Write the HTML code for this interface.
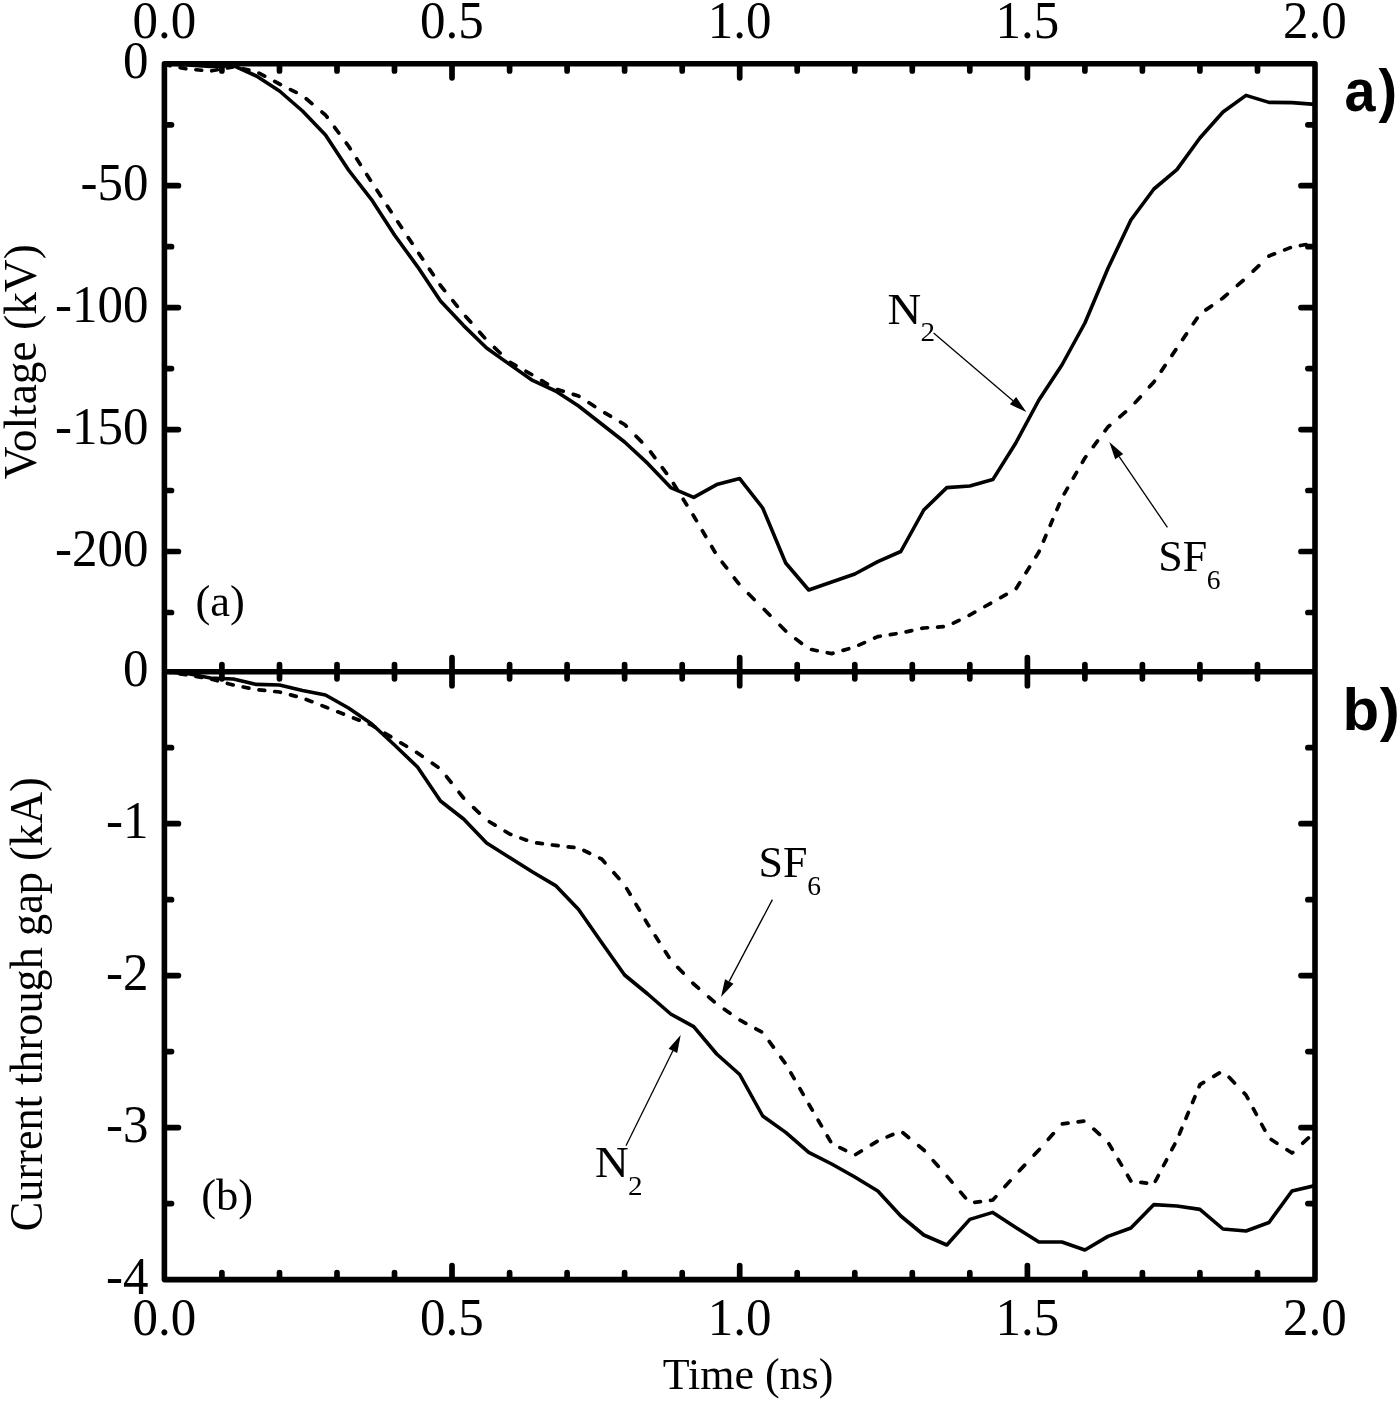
<!DOCTYPE html>
<html lang="en"><head><meta charset="utf-8"><title>Voltage and current through gap vs time</title>
<style>
html,body{margin:0;padding:0;background:#fff;}
body{width:1400px;height:1402px;overflow:hidden;}
svg{display:block;}
.ser{font-family:"Liberation Serif","Times New Roman",serif;fill:#000;}
.san{font-family:"Liberation Sans",Arial,sans-serif;font-weight:bold;fill:#000;}
.ax{stroke:#000;stroke-width:5.6;fill:none;stroke-linecap:round;stroke-linejoin:round;}
.tk{stroke:#000;stroke-width:5.7;fill:none;stroke-linecap:round;}
.cs{stroke:#000;stroke-width:3.6;fill:none;stroke-linejoin:round;stroke-linecap:butt;}
.cd{stroke:#000;stroke-width:3.7;fill:none;stroke-linejoin:round;stroke-linecap:round;}
.ar{stroke:#000;stroke-width:1.3;fill:none;}
</style></head><body>
<svg width="1400" height="1402" viewBox="0 0 1400 1402">
<rect x="0" y="0" width="1400" height="1402" fill="#fff"/>
<defs><clipPath id="ca"><rect x="164.4" y="63.8" width="1150.6" height="607.9"/></clipPath>
<clipPath id="cb"><rect x="164.4" y="671.7" width="1150.6" height="607.9"/></clipPath></defs>
<g clip-path="url(#ca)">
<path class="cd" d="M164.40 64.50L170.10 65.61M180.16 67.58L185.86 68.70M195.92 69.74L201.62 70.23M211.68 70.77L217.38 69.73M227.44 67.89L233.14 66.85M243.20 68.92L248.90 70.16M258.96 73.13L264.66 76.15M274.72 81.49L279.46 84.00L280.42 84.48M290.48 89.56L296.18 92.43M306.24 98.78L311.94 103.58M322.00 112.06L325.48 115.00L327.13 117.22M334.60 127.28L338.83 132.98M346.30 143.04L348.50 146.00L350.24 148.74M356.68 158.80L360.32 164.50M366.75 174.56L370.39 180.26M376.98 190.32L380.72 196.02M387.34 206.08L391.09 211.78M397.75 221.84L401.55 227.54M408.26 237.60L412.06 243.30M418.79 253.36L422.65 259.06M429.45 269.12L433.31 274.82M440.12 284.88L440.54 285.50L444.64 290.58M452.77 300.64L457.37 306.34M465.68 316.40L470.72 322.10M479.63 332.16L484.67 337.86M494.48 347.57L500.18 353.02M510.24 362.38L515.94 365.60M526.00 371.28L531.70 374.50M541.76 380.58L547.46 384.05M557.52 389.58L563.22 391.32M573.28 394.38L578.62 396.00L578.98 396.24M589.04 402.80L594.74 406.51M604.80 412.86L610.50 416.21M620.56 422.11L624.64 424.50L626.23 426.12M636.08 436.18L641.66 441.88M650.58 451.94L654.81 457.64M662.28 467.70L666.51 473.40M673.44 483.46L676.99 489.16M683.24 499.22L686.79 504.92M693.04 514.98L693.68 516.00L696.44 520.68M702.38 530.74L705.74 536.44M711.67 546.50L715.04 552.20M722.26 562.26L726.63 567.96M734.35 578.02L738.72 583.72M748.48 593.78L754.18 599.48M764.24 609.53L769.94 615.23M780.00 625.28L785.70 630.98M795.76 638.85L801.46 643.31M811.52 649.56L817.22 650.70M827.28 652.71L831.75 653.60L832.98 653.25M843.04 650.36L848.74 648.73M858.80 645.17L864.50 642.60M874.56 638.05L877.77 636.60L880.26 636.21M890.32 634.64L896.02 633.74M906.08 631.85L911.78 630.61M921.84 628.42L923.80 628.00L927.54 627.74M937.60 627.04L943.30 626.64M953.36 623.15L959.06 620.33M969.12 615.34L969.82 615.00L974.82 612.17M984.88 606.49L990.58 603.27M1000.64 597.59L1006.34 594.37M1016.19 588.44L1019.74 582.74M1025.99 572.68L1029.54 566.98M1035.80 556.92L1038.86 552.00L1039.19 551.22M1043.48 541.16L1045.90 535.46M1050.19 525.40L1052.62 519.70M1056.91 509.64L1059.34 503.94M1064.24 493.88L1067.52 488.18M1073.30 478.12L1076.58 472.42M1082.37 462.36L1084.88 458.00L1085.87 456.66M1093.34 446.60L1097.57 440.90M1105.04 430.84L1107.89 427.00L1109.75 425.41M1119.81 416.80L1125.51 411.92M1135.15 402.63L1140.33 396.93M1149.48 386.87L1153.92 382.00L1154.48 381.17M1161.29 371.11L1165.14 365.41M1171.95 355.35L1175.81 349.65M1182.62 339.59L1186.48 333.89M1193.29 323.83L1197.14 318.13M1205.87 309.88L1211.57 305.92M1221.63 298.92L1222.95 298.00L1227.33 294.20M1237.39 285.45L1243.09 280.50M1253.15 271.13L1258.85 265.68M1268.91 256.07L1268.98 256.00L1274.61 253.80M1284.67 249.86L1290.37 247.63M1300.43 245.53L1306.13 244.54"/>
<polyline class="cs" points="164.4,63.8 187.4,65.0 210.4,66.5 233.4,65.6 256.4,76.0 279.5,91.0 302.5,111.0 325.5,135.0 348.5,170.0 371.5,199.6 394.5,235.0 417.5,266.6 440.5,301.0 463.6,325.6 486.6,348.0 509.6,364.4 532.6,380.4 555.6,391.0 578.6,406.0 601.6,424.0 624.6,442.0 647.7,463.4 670.7,487.6 693.7,497.4 716.7,484.6 739.7,478.6 762.7,508.0 785.7,563.0 808.7,590.0 831.7,582.0 854.8,574.0 877.8,561.6 900.8,551.5 923.8,510.0 946.8,487.6 969.8,486.0 992.8,479.6 1015.8,443.0 1038.9,400.0 1061.9,365.0 1084.9,323.0 1107.9,268.5 1130.9,220.0 1153.9,189.0 1176.9,169.6 1199.9,138.0 1223.0,112.0 1246.0,95.4 1269.0,102.4 1292.0,102.6 1315.0,104.4"/>
</g>
<g clip-path="url(#cb)">
<path class="cd" d="M164.40 671.70L170.10 672.52M180.16 673.96L185.86 674.78M195.92 676.48L201.62 677.47M211.68 679.33L217.38 680.81M227.44 683.44L233.14 684.92M243.20 686.95L248.90 688.09M258.96 689.86L264.66 690.46M274.72 691.51L279.46 692.00L280.42 692.25M290.48 694.87L296.18 696.36M306.24 699.47L311.94 701.70M322.00 705.64L325.48 707.00L327.70 707.87M337.76 711.80L343.46 714.03M353.52 717.96L359.22 720.19M369.28 724.13L371.51 725.00L374.98 727.11M385.04 733.23L390.74 736.70M400.80 742.82L406.50 746.29M416.56 752.41L417.53 753.00L422.26 756.29M432.32 763.28L438.02 767.25M446.52 776.54L451.05 782.24M459.03 792.30L463.55 798.00M473.61 807.61L479.31 813.06M489.37 821.71L495.07 825.17M505.13 831.29L509.58 834.00L510.83 834.46M520.89 838.13L526.59 840.21M536.65 842.93L542.35 843.67M552.41 844.98L555.60 845.40L558.11 845.68M568.17 846.82L573.87 847.46M583.93 850.54L589.63 853.27M599.69 858.07L601.63 859.00L604.96 862.76M613.86 872.82L618.91 878.52M626.75 888.58L630.12 894.28M636.05 904.34L639.42 910.04M645.35 920.10L647.65 924.00L648.81 925.80M655.24 935.86L658.88 941.56M665.31 951.62L668.95 957.32M677.74 967.38L683.21 973.08M692.86 983.14L693.68 984.00L698.52 988.21M708.58 996.95L714.28 1001.91M724.34 1009.32L730.04 1013.28M740.10 1020.22L745.80 1023.31M755.86 1028.78L761.56 1031.87M769.22 1041.41L773.38 1047.11M780.73 1057.17L784.90 1062.87M790.86 1072.93L794.14 1078.63M799.93 1088.69L803.21 1094.39M809.00 1104.45L812.31 1110.15M818.15 1120.21L821.47 1125.91M827.31 1135.97L830.63 1141.67M839.88 1147.63L845.58 1150.45M855.64 1154.47L861.34 1151.00M871.40 1144.88L877.10 1141.41M887.16 1136.92L892.86 1134.45M902.92 1132.76L908.62 1137.47M918.68 1145.77L923.80 1150.00L924.31 1150.58M933.21 1160.64L938.26 1166.34M947.15 1176.40L952.01 1182.10M960.58 1192.16L965.44 1197.86M974.74 1202.36L980.44 1201.62M990.50 1200.30L992.83 1200.00L995.87 1196.63M1004.95 1186.57L1010.09 1180.87M1019.31 1170.81L1024.66 1165.11M1034.11 1155.05L1038.86 1150.00L1039.43 1149.35M1048.33 1139.29L1053.38 1133.59M1062.34 1123.94L1068.04 1123.20M1078.10 1121.88L1083.80 1121.14M1093.86 1129.19L1099.56 1134.39M1108.91 1143.72L1112.27 1149.42M1118.21 1159.48L1121.57 1165.18M1127.51 1175.24L1130.87 1180.94M1140.91 1182.30L1146.61 1183.05M1155.36 1181.25L1158.34 1175.55M1163.60 1165.49L1166.58 1159.79M1171.84 1149.73L1174.82 1144.03M1179.44 1133.97L1181.81 1128.27M1186.00 1118.21L1188.37 1112.51M1192.55 1102.45L1194.93 1096.75M1199.11 1086.69L1199.94 1084.70L1203.65 1082.44M1213.71 1076.32L1219.41 1072.85M1229.13 1077.22L1234.52 1082.92M1244.05 1092.98L1245.96 1095.00L1247.93 1098.68M1253.32 1108.74L1256.37 1114.44M1261.75 1124.50L1264.80 1130.20M1271.24 1139.47L1276.94 1143.19M1287.00 1149.75L1291.99 1153.00L1292.70 1152.35M1302.76 1143.17L1308.46 1137.97"/>
<polyline class="cs" points="164.4,671.7 187.4,673.6 210.4,678.0 233.4,679.0 256.4,684.4 279.5,685.0 302.5,690.6 325.5,695.0 348.5,708.0 371.5,723.8 394.5,745.0 417.5,767.0 440.5,801.0 463.6,819.0 486.6,843.0 509.6,857.6 532.6,872.0 555.6,885.6 578.6,909.5 601.6,942.5 624.6,975.0 647.7,994.0 670.7,1014.0 693.7,1026.6 716.7,1054.0 739.7,1074.5 762.7,1116.0 785.7,1132.4 808.7,1152.4 831.7,1164.0 854.8,1177.0 877.8,1191.0 900.8,1216.0 923.8,1235.0 946.8,1245.0 969.8,1219.4 992.8,1212.4 1015.8,1227.5 1038.9,1242.0 1061.9,1242.0 1084.9,1250.0 1107.9,1236.4 1130.9,1228.0 1153.9,1204.6 1176.9,1206.0 1199.9,1209.4 1223.0,1229.0 1246.0,1231.0 1269.0,1222.5 1292.0,1191.0 1315.0,1185.6"/>
</g>
<path class="tk" d="M221.9 65.3v5.6M221.9 664.6v14.2M221.9 1278.1v-5.6M279.5 65.3v5.6M279.5 664.6v14.2M279.5 1278.1v-5.6M337.0 65.3v5.6M337.0 664.6v14.2M337.0 1278.1v-5.6M394.5 65.3v5.6M394.5 664.6v14.2M394.5 1278.1v-5.6M452.0 65.3v12.5M452.0 657.7v28.0M452.0 1278.1v-12.5M509.6 65.3v5.6M509.6 664.6v14.2M509.6 1278.1v-5.6M567.1 65.3v5.6M567.1 664.6v14.2M567.1 1278.1v-5.6M624.6 65.3v5.6M624.6 664.6v14.2M624.6 1278.1v-5.6M682.2 65.3v5.6M682.2 664.6v14.2M682.2 1278.1v-5.6M739.7 65.3v12.5M739.7 657.7v28.0M739.7 1278.1v-12.5M797.2 65.3v5.6M797.2 664.6v14.2M797.2 1278.1v-5.6M854.8 65.3v5.6M854.8 664.6v14.2M854.8 1278.1v-5.6M912.3 65.3v5.6M912.3 664.6v14.2M912.3 1278.1v-5.6M969.8 65.3v5.6M969.8 664.6v14.2M969.8 1278.1v-5.6M1027.4 65.3v12.5M1027.4 657.7v28.0M1027.4 1278.1v-12.5M1084.9 65.3v5.6M1084.9 664.6v14.2M1084.9 1278.1v-5.6M1142.4 65.3v5.6M1142.4 664.6v14.2M1142.4 1278.1v-5.6M1199.9 65.3v5.6M1199.9 664.6v14.2M1199.9 1278.1v-5.6M1257.5 65.3v5.6M1257.5 664.6v14.2M1257.5 1278.1v-5.6M165.9 124.8h5.6M1313.5 124.8h-5.6M165.9 185.7h12.5M1313.5 185.7h-12.5M165.9 246.7h5.6M1313.5 246.7h-5.6M165.9 307.6h12.5M1313.5 307.6h-12.5M165.9 368.6h5.6M1313.5 368.6h-5.6M165.9 429.6h12.5M1313.5 429.6h-12.5M165.9 490.5h5.6M1313.5 490.5h-5.6M165.9 551.5h12.5M1313.5 551.5h-12.5M165.9 612.5h5.6M1313.5 612.5h-5.6M165.9 747.7h5.6M1313.5 747.7h-5.6M165.9 823.7h12.5M1313.5 823.7h-12.5M165.9 899.7h5.6M1313.5 899.7h-5.6M165.9 975.6h12.5M1313.5 975.6h-12.5M165.9 1051.6h5.6M1313.5 1051.6h-5.6M165.9 1127.6h12.5M1313.5 1127.6h-12.5M165.9 1203.6h5.6M1313.5 1203.6h-5.6"/>
<path class="ax" d="M164.4 63.8H1315.0V1279.6H164.4Z"/>
<path class="ax" style="stroke-linecap:butt" d="M164.4 671.7H1315.0"/>
<text class="ser" font-size="51" text-anchor="middle" transform="translate(164.4 37.8) scale(1 1.030)">0.0</text>
<text class="ser" font-size="51" text-anchor="middle" transform="translate(164.4 1334.6) scale(1 1.030)">0.0</text>
<text class="ser" font-size="51" text-anchor="middle" transform="translate(452.0 37.8) scale(1 1.030)">0.5</text>
<text class="ser" font-size="51" text-anchor="middle" transform="translate(452.0 1334.6) scale(1 1.030)">0.5</text>
<text class="ser" font-size="51" text-anchor="middle" transform="translate(739.7 37.8) scale(1 1.030)">1.0</text>
<text class="ser" font-size="51" text-anchor="middle" transform="translate(739.7 1334.6) scale(1 1.030)">1.0</text>
<text class="ser" font-size="51" text-anchor="middle" transform="translate(1027.3 37.8) scale(1 1.030)">1.5</text>
<text class="ser" font-size="51" text-anchor="middle" transform="translate(1027.3 1334.6) scale(1 1.030)">1.5</text>
<text class="ser" font-size="51" text-anchor="middle" transform="translate(1315.0 37.8) scale(1 1.030)">2.0</text>
<text class="ser" font-size="51" text-anchor="middle" transform="translate(1315.0 1334.6) scale(1 1.030)">2.0</text>
<text class="ser" font-size="51" text-anchor="end" transform="translate(148.4 78.0) scale(1 1.030)">0</text>
<text class="ser" font-size="51" text-anchor="end" transform="translate(148.4 199.9) scale(1 1.030)">-50</text>
<text class="ser" font-size="51" text-anchor="end" transform="translate(148.4 321.8) scale(1 1.030)">-100</text>
<text class="ser" font-size="51" text-anchor="end" transform="translate(148.4 443.8) scale(1 1.030)">-150</text>
<text class="ser" font-size="51" text-anchor="end" transform="translate(148.4 565.7) scale(1 1.030)">-200</text>
<text class="ser" font-size="51" text-anchor="end" transform="translate(148.4 685.9) scale(1 1.030)">0</text>
<text class="ser" font-size="51" text-anchor="end" transform="translate(148.4 837.9) scale(1 1.030)">-1</text>
<text class="ser" font-size="51" text-anchor="end" transform="translate(148.4 989.9) scale(1 1.030)">-2</text>
<text class="ser" font-size="51" text-anchor="end" transform="translate(148.4 1141.8) scale(1 1.030)">-3</text>
<text class="ser" font-size="51" text-anchor="end" transform="translate(148.4 1293.8) scale(1 1.030)">-4</text>
<text class="ser" font-size="45.4" text-anchor="middle" transform="translate(35.5 361.7) rotate(-90)">Voltage (kV)</text>
<text class="ser" font-size="44.3" text-anchor="middle" transform="translate(42.0 1004.3) rotate(-90) scale(1 1.035)">Current through gap (kA)</text>
<text class="ser" font-size="44" text-anchor="middle" transform="translate(748.0 1388.7) scale(1 1.020)">Time (ns)</text>
<text class="ser" font-size="44.5" x="195.5" y="616.3">(a)</text>
<text class="ser" font-size="44.5" x="201.2" y="1210.0">(b)</text>
<text class="san" font-size="60" letter-spacing="3.1" transform="translate(1344.6 111) scale(0.93 1)">a)</text>
<text class="san" font-size="60" letter-spacing="0.7" x="1342.5" y="730">b)</text>
<text class="ser" font-size="44.0" transform="translate(887.5 323.6) scale(1.060 1.030)">N<tspan font-size="27.5" dx="-0.6" dy="17.1">2</tspan></text>
<text class="ser" font-size="44.0" transform="translate(1158.2 571.0) scale(1.000 1.030)">SF<tspan font-size="27.5" dx="-0.3" dy="17.1">6</tspan></text>
<text class="ser" font-size="44.0" transform="translate(758.6 877.2) scale(1.000 1.030)">SF<tspan font-size="27.5" dx="-0.3" dy="17.1">6</tspan></text>
<text class="ser" font-size="44.0" transform="translate(594.9 1177.0) scale(1.060 1.030)">N<tspan font-size="27.5" dx="-0.6" dy="17.1">2</tspan></text>
<path class="ar" d="M933.6 333.1L1013.0 400.7"/>
<path fill="#000" d="M1026.4 412.1L1009.9 404.3L1016.1 397.0Z"/>
<path class="ar" d="M1167.4 527.4L1119.2 456.6"/>
<path fill="#000" d="M1109.3 442.1L1123.2 453.9L1115.2 459.3Z"/>
<path class="ar" d="M772.4 899.6L729.2 981.4"/>
<path fill="#000" d="M721.0 997.0L725.0 979.2L733.5 983.7Z"/>
<path class="ar" d="M626.0 1145.7L672.9 1050.8"/>
<path fill="#000" d="M680.7 1035.0L677.2 1052.9L668.6 1048.7Z"/>
</svg>
</body></html>
